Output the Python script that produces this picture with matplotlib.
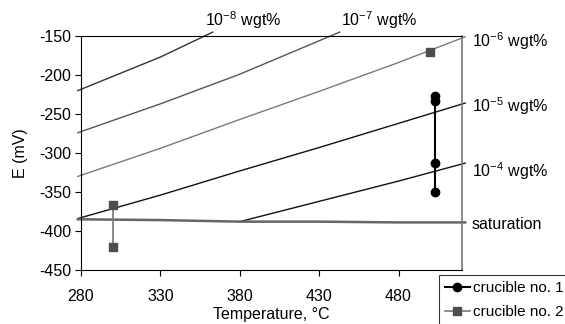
import numpy as np
import matplotlib
matplotlib.use("Agg")
import matplotlib.pyplot as plt

plt.rcParams['font.family'] = ['Liberation Sans', 'DejaVu Sans']
plt.rcParams['axes.unicode_minus'] = False
plt.rcParams['mathtext.fontset'] = 'custom'
plt.rcParams['mathtext.rm'] = 'Liberation Sans'
plt.rcParams['mathtext.it'] = 'Liberation Sans:italic'
plt.rcParams['mathtext.bf'] = 'Liberation Sans:bold'

# --- isoconcentration lines ---
t_1e8 = [278, 330, 363]
e_1e8 = [-220, -177, -145]
t_1e7 = [278, 330, 380, 443]
e_1e7 = [-274, -237, -199, -145]
t_1e6 = [278, 330, 380, 430, 480, 522]
e_1e6 = [-330, -294, -257, -221, -184, -151]
t_1e5 = [278, 330, 380, 430, 480, 522]
e_1e5 = [-384, -354, -323, -293, -262, -236]
t_1e4 = [380, 430, 480, 522]
e_1e4 = [-388, -362, -336, -313]
t_sat = [278, 330, 380, 430, 480, 522]
e_sat = [-385, -386, -388, -388, -389, -389]

# --- measurements ---
t_cr1 = [503, 503, 503, 503]
e_cr1 = [-227, -233, -313, -350]
t_cr2 = [300, 300, np.nan, 500]
e_cr2 = [-367, -420, np.nan, -170]

fig = plt.figure(figsize=(5.65, 3.24), dpi=100)
ax = fig.add_axes([81 / 565, 1 - 270 / 324, 381 / 565, 234 / 324])

ax.plot(t_1e8, e_1e8, color='#333333', lw=1.0, clip_on=False)
ax.plot(t_1e7, e_1e7, color='#555555', lw=1.0, clip_on=False)
ax.plot(t_1e6, e_1e6, color='#7a7a7a', lw=1.0, clip_on=False)
ax.plot(t_1e5, e_1e5, color='#111111', lw=1.0, clip_on=False)
ax.plot(t_1e4, e_1e4, color='#111111', lw=1.0, clip_on=False)
ax.plot(t_sat, e_sat, color='#666666', lw=1.8, clip_on=False)

ax.plot(t_cr1, e_cr1, color='black', marker='o', ms=6, lw=1.5,
        label='crucible no. 1', zorder=5)
ax.plot(t_cr2, e_cr2, color='#777777', marker='s', ms=6, lw=1.2,
        mfc='#4d4d4d', mec='#4d4d4d', label='crucible no. 2', zorder=5)

fs = 11.5
ax.set_xlim(280, 520)
ax.set_ylim(-450, -150)
ax.set_xticks([280, 330, 380, 430, 480])
ax.set_yticks(range(-450, -149, 50))
ax.tick_params(direction='out', length=4, labelsize=fs, pad=3)
ax.tick_params(axis='x', pad=10)
for s in ['left', 'bottom', 'top']:
    ax.spines[s].set_color('black')
ax.spines['right'].set_color('#777777')
ax.spines['right'].set_linewidth(1.2)

ax.set_xlabel('Temperature, °C', fontsize=fs, labelpad=2)
ax.set_ylabel('E (mV)', fontsize=fs, labelpad=8)

ax.text(382, -143, '10$^{-8}$ wgt%', fontsize=fs, ha='center', va='bottom', clip_on=False)
ax.text(468, -143, '10$^{-7}$ wgt%', fontsize=fs, ha='center', va='bottom', clip_on=False)
ax.text(526, -157, '10$^{-6}$ wgt%', fontsize=fs, ha='left', va='center', clip_on=False)
ax.text(526, -240, '10$^{-5}$ wgt%', fontsize=fs, ha='left', va='center', clip_on=False)
ax.text(526, -323, '10$^{-4}$ wgt%', fontsize=fs, ha='left', va='center', clip_on=False)
ax.text(526, -392, 'saturation', fontsize=fs, ha='left', va='center', clip_on=False)

leg = ax.legend(loc='upper left', bbox_to_anchor=(439 / 565, 1 - 275 / 324),
                bbox_transform=fig.transFigure, fontsize=11, frameon=True,
                fancybox=False, edgecolor='black', handlelength=1.6,
                handletextpad=0.2, borderpad=0.4, labelspacing=0.65,
                borderaxespad=0, markerscale=1.0)
leg.get_frame().set_linewidth(0.8)

fig.savefig('out.png', dpi=100)
